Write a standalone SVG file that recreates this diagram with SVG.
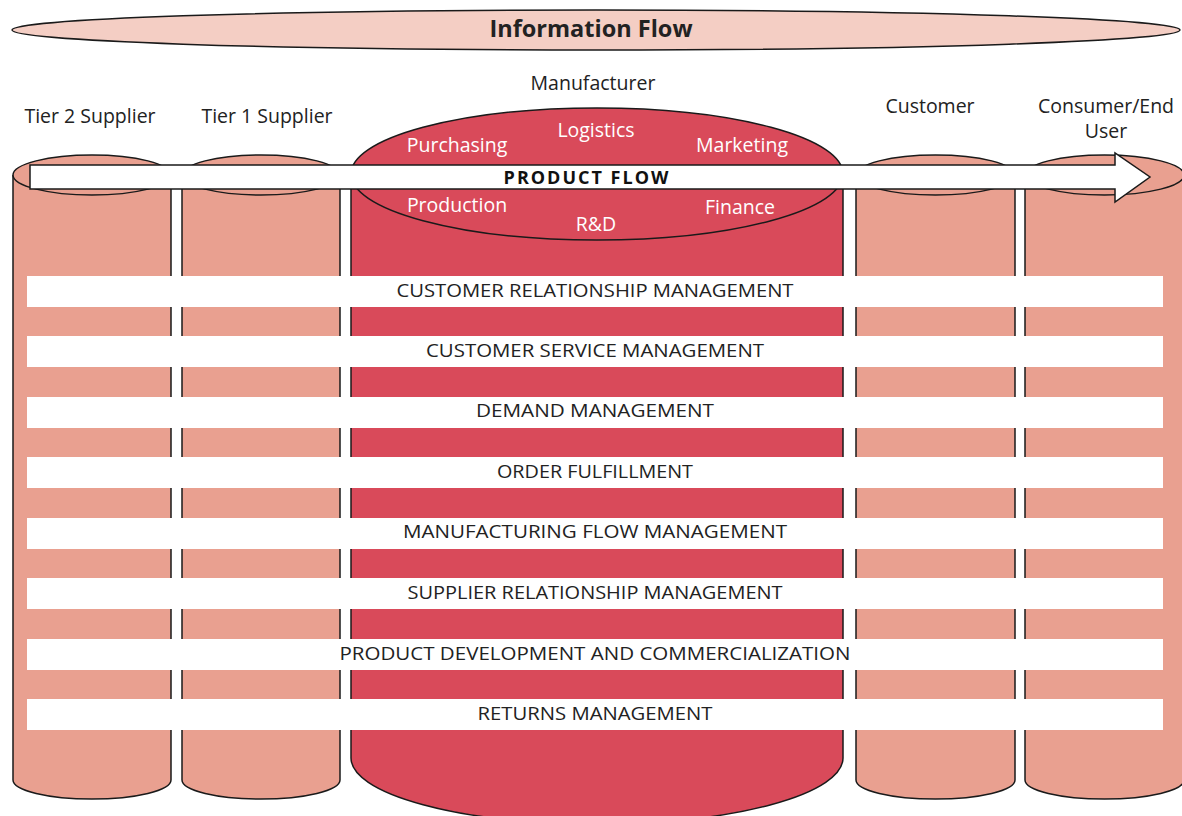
<svg xmlns="http://www.w3.org/2000/svg" width="1182" height="816" viewBox="0 0 1182 816">
<style>
.cyl{fill:#E9A090;stroke:#1a1a1a;stroke-width:1.5}
.mfg{fill:#D94A5A;stroke:#1a1a1a;stroke-width:1.5}
.lbl{font-family:"Open Sans","Liberation Sans",sans-serif;font-size:19.5px;fill:#222;text-anchor:middle}
.in{font-family:"Open Sans","Liberation Sans",sans-serif;font-size:19.5px;fill:#fff;text-anchor:middle}
.bar{fill:#fff}
.bt{font-family:"Open Sans","Liberation Sans",sans-serif;font-size:18px;fill:#222;text-anchor:middle}
</style>
<rect width="1182" height="816" fill="#fff"/>
<g id="info-flow">
<ellipse cx="596" cy="30" rx="584" ry="20" fill="#F4CEC4" stroke="#1a1a1a" stroke-width="1.5"/>
<text x="591" y="37" font-family="'Open Sans','Liberation Sans',sans-serif" font-size="23.5" font-weight="bold" fill="#222" text-anchor="middle">Information Flow</text>
</g>
<g id="tier2">
<path class="cyl" d="M13,175 L13,780 A79,19 0 0 0 171,780 L171,175"/>
<ellipse class="cyl" cx="92" cy="175" rx="79" ry="20"/>
<text class="lbl" x="90" y="123">Tier 2 Supplier</text>
</g>
<g id="tier1">
<path class="cyl" d="M182,175 L182,780 A79,19 0 0 0 340,780 L340,175"/>
<ellipse class="cyl" cx="261" cy="175" rx="79" ry="20"/>
<text class="lbl" x="267" y="123">Tier 1 Supplier</text>
</g>
<g id="manufacturer">
<path class="mfg" d="M351,174 L351,758 A246,66 0 0 0 843,758 L843,174"/>
<ellipse class="mfg" cx="597" cy="174" rx="246" ry="66"/>
<text class="lbl" x="593" y="90">Manufacturer</text>
<text class="in" x="457" y="152">Purchasing</text>
<text class="in" x="596" y="137">Logistics</text>
<text class="in" x="742" y="152">Marketing</text>
<text class="in" x="457" y="212">Production</text>
<text class="in" x="596" y="231">R&amp;D</text>
<text class="in" x="740" y="214">Finance</text>
</g>
<g id="customer">
<path class="cyl" d="M856,175 L856,780 A79.5,19 0 0 0 1015,780 L1015,175"/>
<ellipse class="cyl" cx="935.5" cy="175" rx="79.5" ry="20"/>
<text class="lbl" x="930" y="113">Customer</text>
</g>
<g id="consumer">
<path class="cyl" d="M1025,175 L1025,780 A79.5,19 0 0 0 1184,780 L1184,175"/>
<ellipse class="cyl" cx="1104.5" cy="175" rx="79.5" ry="20"/>
<text class="lbl" x="1106" y="113">Consumer/End</text>
<text class="lbl" x="1106" y="138">User</text>
</g>
<g id="connectors">
<g id="product-flow">
<path d="M30,165 L1115,165 L1115,153 L1150,177 L1115,202 L1115,189 L30,189 Z" fill="#fff" stroke="#1a1a1a" stroke-width="1.5"/>
<text x="587" y="184" font-family="'Open Sans','Liberation Sans',sans-serif" font-size="18" font-weight="bold" letter-spacing="2" fill="#111" text-anchor="middle">PRODUCT FLOW</text>
</g>
</g>
<g id="processes">
<rect class="bar" x="27" y="276" width="1136" height="31"/>
<text class="bt" x="595" y="297" textLength="397" lengthAdjust="spacingAndGlyphs">CUSTOMER RELATIONSHIP MANAGEMENT</text>
<rect class="bar" x="27" y="336" width="1136" height="31"/>
<text class="bt" x="595" y="357" textLength="338" lengthAdjust="spacingAndGlyphs">CUSTOMER SERVICE MANAGEMENT</text>
<rect class="bar" x="27" y="397" width="1136" height="31"/>
<text class="bt" x="595" y="417" textLength="238" lengthAdjust="spacingAndGlyphs">DEMAND MANAGEMENT</text>
<rect class="bar" x="27" y="457" width="1136" height="31"/>
<text class="bt" x="595" y="478" textLength="196" lengthAdjust="spacingAndGlyphs">ORDER FULFILLMENT</text>
<rect class="bar" x="27" y="518" width="1136" height="31"/>
<text class="bt" x="595" y="538" textLength="384" lengthAdjust="spacingAndGlyphs">MANUFACTURING FLOW MANAGEMENT</text>
<rect class="bar" x="27" y="578" width="1136" height="31"/>
<text class="bt" x="595" y="599" textLength="375" lengthAdjust="spacingAndGlyphs">SUPPLIER RELATIONSHIP MANAGEMENT</text>
<rect class="bar" x="27" y="639" width="1136" height="31"/>
<text class="bt" x="595" y="660" textLength="511" lengthAdjust="spacingAndGlyphs">PRODUCT DEVELOPMENT AND COMMERCIALIZATION</text>
<rect class="bar" x="27" y="699" width="1136" height="31"/>
<text class="bt" x="595" y="720" textLength="235" lengthAdjust="spacingAndGlyphs">RETURNS MANAGEMENT</text>
</g>
</svg>
